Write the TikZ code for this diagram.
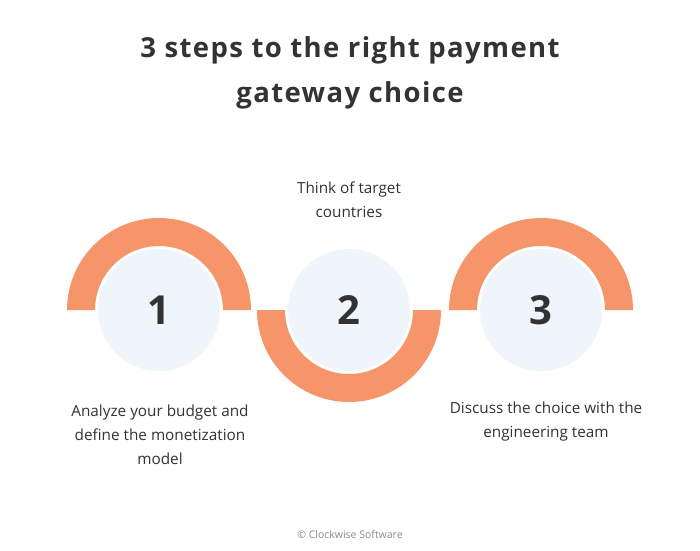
\documentclass[tikz,border=0pt]{standalone}
\usepackage{fontspec}
\setmainfont{Open Sans}
\newfontfamily\titlefont{Open Sans}[LetterSpace=5]
\definecolor{arcor}{HTML}{F7956A}
\definecolor{lightc}{HTML}{F0F5FC}
\definecolor{txt}{HTML}{333333}
\definecolor{copyc}{HTML}{8A8A8A}
\begin{document}
\begin{tikzpicture}[x=1pt,y=1pt,
  numcirc/.style={circle,fill=lightc,minimum size=122pt,inner sep=0pt,text=txt,font=\fontsize{40}{40}\selectfont\bfseries},
  lbl/.style={align=center,text=txt,font=\fontsize{15.3}{24}\selectfont}]
\useasboundingbox[fill=white] (0,0) rectangle (700,550);
% title
\node[text=txt,align=center,font=\titlefont\fontsize{27.5}{45}\selectfont\bfseries] (title) at (350,477) {3 steps to the right payment\\gateway choice};
% arcs
\fill[arcor] (159-92,240) arc[start angle=180,end angle=0,radius=92] -- (159+64,240) arc[start angle=0,end angle=180,radius=64] -- cycle;
\fill[arcor] (349-92,240) arc[start angle=180,end angle=360,radius=92] -- (349+64,240) arc[start angle=360,end angle=180,radius=64] -- cycle;
\fill[arcor] (541-92,240) arc[start angle=180,end angle=0,radius=92] -- (541+64,240) arc[start angle=0,end angle=180,radius=64] -- cycle;
% circles
\node[numcirc] (c1) at (159,240) {1};
\node[numcirc] (c2) at (349,240) {2};
\node[numcirc] (c3) at (541,240) {3};
% labels
\node[lbl] (t1) at (160,115) {Analyze your budget and\\define the monetization\\model};
\node[lbl] (t2) at (349,350) {Think of target\\countries};
\node[lbl] (t3) at (546,128) {Discuss the choice with the\\engineering team};
\node[text=copyc,font=\fontsize{10.5}{12}\selectfont] (copy) at (350,15) {© Clockwise Software};
\end{tikzpicture}
\end{document}
